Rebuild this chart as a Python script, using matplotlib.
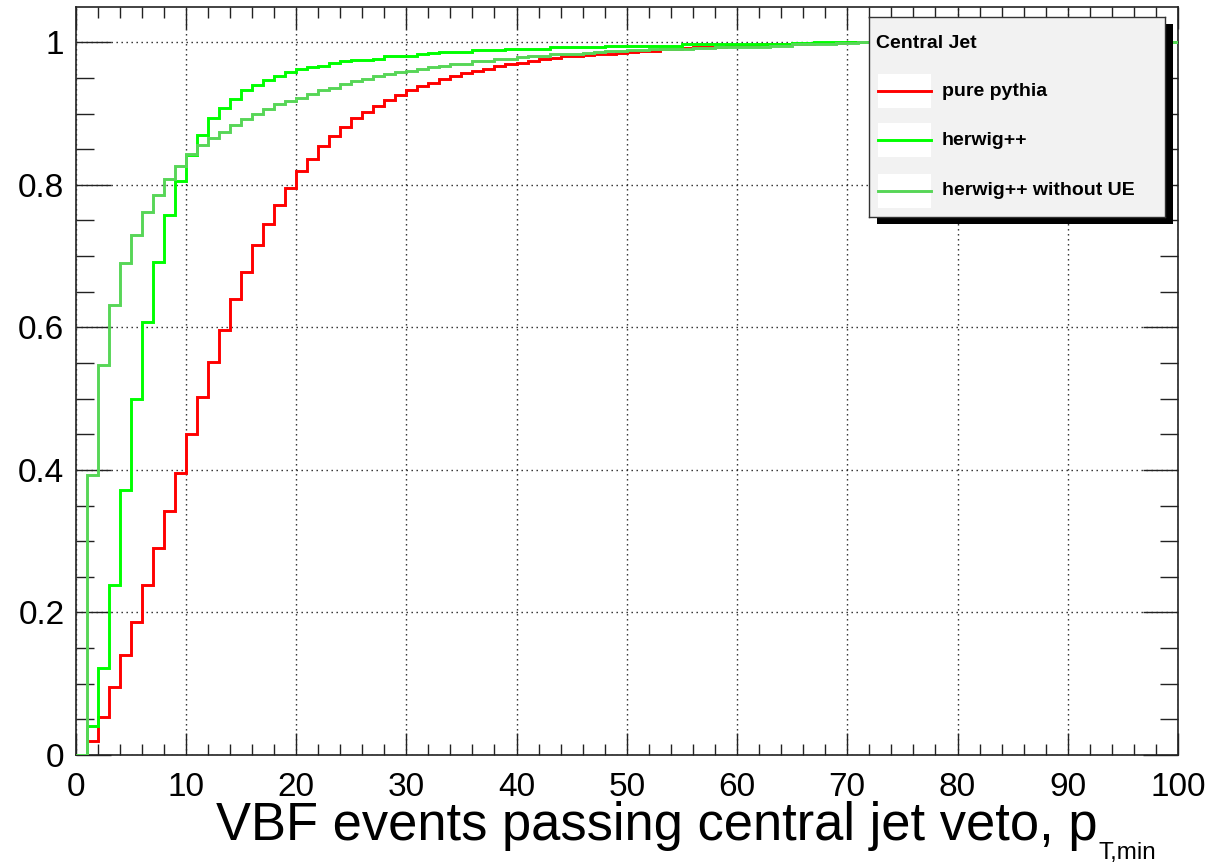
import matplotlib
matplotlib.use("Agg")
import matplotlib.pyplot as plt
import numpy as np
from matplotlib.patches import Rectangle
from matplotlib.lines import Line2D

# Fraction of VBF events passing a central jet veto, as a function of the
# veto threshold pT,min (1 GeV bins from 0 to 100).
bin_edges = list(range(0, 101))

pure_pythia = [
    0.000, 0.020, 0.053, 0.095, 0.140, 0.187, 0.238, 0.290, 0.343, 0.396,
    0.451, 0.502, 0.551, 0.596, 0.640, 0.678, 0.715, 0.745, 0.772, 0.796,
    0.820, 0.836, 0.855, 0.868, 0.881, 0.893, 0.902, 0.910, 0.919, 0.926,
    0.933, 0.938, 0.943, 0.948, 0.953, 0.957, 0.960, 0.963, 0.967, 0.969,
    0.971, 0.974, 0.976, 0.978, 0.980, 0.981, 0.982, 0.983, 0.984, 0.985,
    0.986, 0.987, 0.988, 0.990, 0.991, 0.992, 0.993, 0.994, 0.994, 0.995,
    0.996, 0.996, 0.997, 0.997, 0.998, 0.998, 0.998, 0.999, 0.999, 0.999,
    1.000, 1.000, 1.000, 1.000, 1.000, 1.000, 1.000, 1.000, 1.000, 1.000,
    1.000, 1.000, 1.000, 1.000, 1.000, 1.000, 1.000, 1.000, 1.000, 1.000,
    1.000, 1.000, 1.000, 1.000, 1.000, 1.000, 1.000, 1.000, 1.000, 1.000,
]

herwig = [
    0.000, 0.041, 0.122, 0.238, 0.372, 0.500, 0.607, 0.691, 0.757, 0.806,
    0.842, 0.870, 0.893, 0.908, 0.921, 0.933, 0.940, 0.947, 0.953, 0.958,
    0.962, 0.965, 0.967, 0.971, 0.973, 0.975, 0.975, 0.977, 0.980, 0.980,
    0.981, 0.983, 0.985, 0.986, 0.986, 0.986, 0.989, 0.989, 0.989, 0.991,
    0.991, 0.991, 0.991, 0.993, 0.993, 0.993, 0.993, 0.993, 0.995, 0.995,
    0.995, 0.995, 0.995, 0.995, 0.995, 0.997, 0.997, 0.997, 0.997, 0.997,
    0.997, 0.997, 0.997, 0.997, 0.997, 0.999, 0.999, 1.000, 1.000, 1.000,
    1.000, 1.000, 1.000, 1.000, 1.000, 1.000, 1.000, 1.000, 1.000, 1.000,
    1.000, 1.000, 1.000, 1.000, 1.000, 1.000, 1.000, 1.000, 1.000, 1.000,
    1.000, 1.000, 1.000, 1.000, 1.000, 1.000, 1.000, 1.000, 1.000, 1.000,
]

herwig_no_ue = [
    0.000, 0.393, 0.547, 0.632, 0.690, 0.730, 0.762, 0.786, 0.808, 0.827,
    0.843, 0.856, 0.866, 0.874, 0.884, 0.892, 0.899, 0.906, 0.913, 0.918,
    0.922, 0.927, 0.933, 0.936, 0.941, 0.945, 0.948, 0.952, 0.955, 0.958,
    0.960, 0.962, 0.965, 0.966, 0.969, 0.969, 0.974, 0.974, 0.977, 0.977,
    0.979, 0.980, 0.981, 0.983, 0.983, 0.984, 0.985, 0.986, 0.987, 0.988,
    0.989, 0.989, 0.990, 0.990, 0.991, 0.991, 0.992, 0.992, 0.993, 0.993,
    0.994, 0.994, 0.994, 0.995, 0.995, 0.997, 0.997, 0.998, 0.998, 0.999,
    0.999, 1.000, 1.000, 1.000, 1.000, 1.000, 1.000, 1.000, 1.000, 1.000,
    1.000, 1.000, 1.000, 1.000, 1.000, 1.000, 1.000, 1.000, 1.000, 1.000,
    1.000, 1.000, 1.000, 1.000, 1.000, 1.000, 1.000, 1.000, 1.000, 1.000,
]

series_labels = ["pure pythia", "herwig++", "herwig++ without UE"]
series_colors = ["#ff0000", "#00ff00", "#57d657"]
legend_title = "Central Jet"

x_ticks = list(range(0, 101, 10))
y_ticks = [0.0, 0.2, 0.4, 0.6, 0.8, 1.0]
y_tick_labels = ["0", "0.2", "0.4", "0.6", "0.8", "1"]

plt.rcParams["font.family"] = ["Liberation Sans", "DejaVu Sans"]

W, H = 1216, 865
fig = plt.figure(figsize=(W / 100, H / 100), dpi=100, facecolor="white")

ax_l, ax_r, ax_b, ax_t = 75.5, 1178.0, 755.0, 7.3
ax = fig.add_axes([ax_l / W, 1 - ax_b / H, (ax_r - ax_l) / W, (ax_b - ax_t) / H])

for vals, col in zip([pure_pythia, herwig, herwig_no_ue], series_colors):
    ax.stairs(vals, bin_edges, baseline=None, color=col, lw=2.1, zorder=3)

ax.set_xlim(0, 100)
ax.set_ylim(0, 1.049)
ax.set_xticks(x_ticks)
ax.set_xticklabels([str(v) for v in x_ticks])
ax.set_yticks(y_ticks)
ax.set_yticklabels(y_tick_labels)
ax.set_xticks(np.arange(0, 101, 2), minor=True)
ax.set_yticks(np.arange(0, 1.05, 0.05), minor=True)

ax.tick_params(which="both", direction="in", top=True, right=True,
               width=1.0, color="#222222", labelsize=24)
ax.tick_params(axis="x", which="major", length=16, pad=12)
ax.tick_params(axis="x", which="minor", length=8)
ax.tick_params(axis="y", which="major", length=25, pad=8)
ax.tick_params(axis="y", which="minor", length=13)
for sp in ax.spines.values():
    sp.set_linewidth(1.2)
    sp.set_color("#222222")

ax.grid(True, which="major", color="#222222", lw=1.0, ls=(0, (1, 2.6)))
ax.set_axisbelow(True)

# axis title: ROOT-style, right-aligned with a lowered subscript
xt = fig.text(1097 / W, 1 - 840 / H, "VBF events passing central jet veto, p",
              ha="right", va="baseline", fontsize=37.8)
ax.annotate("T,min", xy=(1, 0), xycoords=xt, xytext=(1, -6),
            textcoords="offset points", ha="left", va="baseline", fontsize=17.5)

# legend box with drop shadow
lx0, lx1, ly0, ly1 = 869, 1165, 17, 217
shadow = Rectangle(((lx0 + 8) / W, 1 - (ly1 + 7) / H), (lx1 - lx0) / W,
                   (ly1 - ly0) / H, transform=fig.transFigure,
                   facecolor="black", edgecolor="none", zorder=1)
fig.patches.append(shadow)

lax = fig.add_axes([lx0 / W, 1 - ly1 / H, (lx1 - lx0) / W, (ly1 - ly0) / H])
lax.set_zorder(2)
lax.set_facecolor("#f2f2f2")
lax.set_xlim(0, 1)
lax.set_ylim(0, 1)
lax.set_xticks([])
lax.set_yticks([])
for sp in lax.spines.values():
    sp.set_linewidth(1.0)
    sp.set_color("#333333")

lax.text(0.024, 0.87, legend_title, fontsize=14, fontweight="bold",
         ha="left", va="center")
entry_y = [0.63, 0.383, 0.13]
for yc, lab, col in zip(entry_y, series_labels, series_colors):
    lax.add_patch(Rectangle((0.030, yc - 0.085), 0.179, 0.17,
                            facecolor="white", edgecolor="none"))
    lax.add_line(Line2D([0.030, 0.209], [yc, yc], color=col, lw=2.1))
    lax.text(0.247, yc, lab, fontsize=14, fontweight="bold",
             ha="left", va="center")

fig.savefig("out.png", dpi=100, facecolor="white")
